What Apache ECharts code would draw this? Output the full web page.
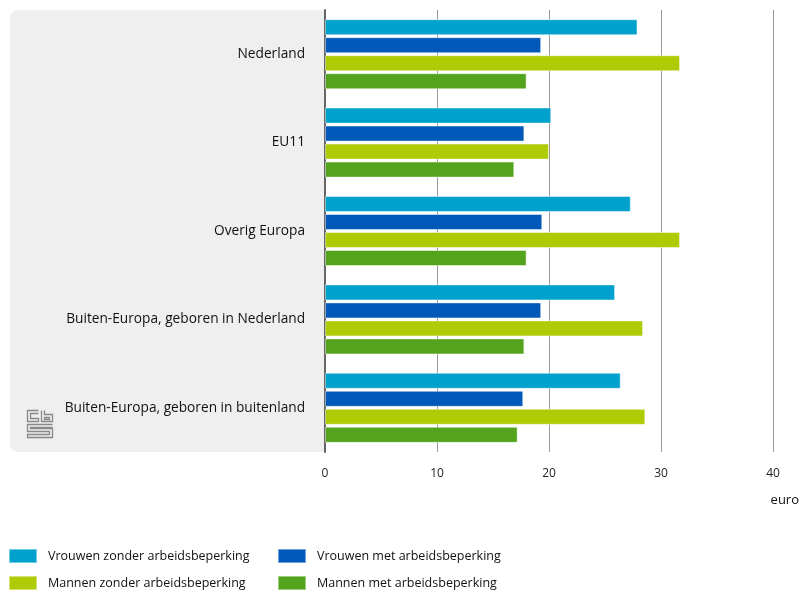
<!DOCTYPE html>
<html>
<head>
<meta charset="utf-8">
<script src="https://cdn.jsdelivr.net/npm/echarts@6/dist/echarts.min.js"></script>
<style>
html,body{margin:0;padding:0;background:#fff;}
#chart{width:800px;height:591px;}
</style>
</head>
<body>
<div id="chart"></div>
<script>
var categories = ["Nederland", "EU11", "Overig Europa", "Buiten-Europa, geboren in Nederland", "Buiten-Europa, geboren in buitenland"];
var seriesNames = ["Vrouwen zonder arbeidsbeperking", "Vrouwen met arbeidsbeperking", "Mannen zonder arbeidsbeperking", "Mannen met arbeidsbeperking"];
var vrouwenZonder = [27.9, 20.2, 27.3, 25.9, 26.4];
var vrouwenMet = [19.3, 17.8, 19.4, 19.3, 17.7];
var mannenZonder = [31.7, 20.0, 31.7, 28.4, 28.6];
var mannenMet = [18.0, 16.9, 18.0, 17.8, 17.2];
var xTicks = [0, 10, 20, 30, 40];
var colors = ["#00a1cd", "#0058b8", "#afcb05", "#53a31d"];
var FONT = "Open Sans";

var chart = echarts.init(document.getElementById('chart'), null, {renderer: 'canvas'});
var values = [vrouwenZonder, vrouwenMet, mannenZonder, mannenMet];
var series = seriesNames.map(function (n, i) {
  return {
    name: n, type: 'bar', data: values[i],
    barWidth: 16, barGap: '12.5%',
    itemStyle: {color: colors[i], borderColor: 'rgba(255,255,255,0.45)', borderWidth: 1},
    emphasis: {disabled: true}, z: 3
  };
});
var legendPos = [[8, 548], [277, 548], [8, 575], [277, 575]];
var legends = seriesNames.map(function (n, i) {
  return {data: [n], left: legendPos[i][0], top: legendPos[i][1], padding: 0,
    itemWidth: 28, itemHeight: 14, itemGap: 0, icon: 'rect', selectedMode: false,
    textStyle: {fontSize: 12.5, color: '#111', fontFamily: FONT, padding: [0, 0, 0, 6]}};
});
chart.setOption({
  animation: false,
  textStyle: {fontFamily: FONT},
  grid: {left: 325, right: 27, top: 10, bottom: 139, containLabel: false},
  xAxis: {
    type: 'value', min: xTicks[0], max: xTicks[xTicks.length - 1], interval: 10,
    axisLine: {show: false}, axisTick: {show: false},
    splitLine: {show: true, lineStyle: {color: '#9a9a9a', width: 1}},
    axisLabel: {margin: 16, fontSize: 12, color: '#222', fontFamily: FONT}
  },
  yAxis: {
    type: 'category', data: categories, inverse: true,
    axisLine: {show: true, lineStyle: {color: '#666', width: 2}},
    axisTick: {show: false},
    axisLabel: {margin: 20, fontSize: 13.7, color: '#111', fontFamily: FONT, padding: [4, 0, 0, 0]}
  },
  legend: legends,
  graphic: [
    {type: 'rect', left: 10, top: 10, z: -10, silent: true,
     shape: {width: 315, height: 442, r: [8, 0, 0, 8]}, style: {fill: '#efefef'}},
    {type: 'group', left: 25, top: 408, silent: true, children: [
      {type: 'polyline', shape: {points: [[11,0],[0,0],[0,11],[11,11],[11,8],[3,8],[3,3],[11,3]]}, style: {stroke: '#888', fill: null, lineWidth: 1.3}},
      {type: 'polyline', shape: {points: [[14,0],[14,11],[25,11],[25,4],[17,4],[17,0]]}, style: {stroke: '#888', fill: null, lineWidth: 1.3}},
      {type: 'rect', shape: {x: 17, y: 7, width: 5, height: 2}, style: {stroke: '#888', fill: null, lineWidth: 1.3}},
      {type: 'polyline', shape: {points: [[25,14],[0,14],[0,21],[22,21],[22,24],[0,24],[0,27],[25,27],[25,18],[3,18],[3,17],[25,17]]}, style: {stroke: '#888', fill: null, lineWidth: 1.3}}
    ]},
    {type: 'text', right: 1, top: 494, silent: true,
     style: {text: 'euro', fontSize: 13, fill: '#111', fontFamily: FONT}}
  ],
  series: series
});
</script>
</body>
</html>
